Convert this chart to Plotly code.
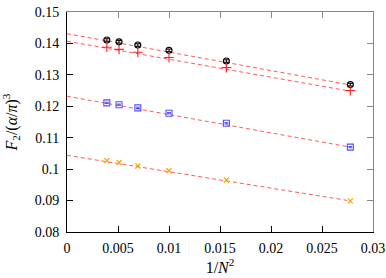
import plotly.graph_objects as go

# Data: x = 1/N^2
x_vals = [1/256, 1/196, 1/144, 1/100, 1/64, 1/36]
y_black = [0.1411, 0.1405, 0.1395, 0.1378, 0.1344, 0.1269]
err_black = [0.0004, 0.0004, 0.0004, 0.0004, 0.0004, 0.0004]
y_red = [0.1388, 0.1381, 0.1372, 0.1355, 0.1323, 0.1250]
y_blue = [0.1211, 0.1205, 0.1195, 0.1178, 0.1146, 0.1070]
err_blue = [0.0002, 0.0002, 0.0002, 0.0002, 0.0002, 0.0002]
y_orange = [0.1027, 0.1021, 0.1010, 0.0995, 0.0965, 0.0899]

# Linear fit lines (start/end values)
fit_x = [0.0, 1/36]
fit_black = [0.1431, 0.1268]
fit_red = [0.1407, 0.1248]
fit_blue = [0.1232, 0.1070]
fit_orange = [0.1044, 0.0899]

x_ticks = [0, 0.005, 0.01, 0.015, 0.02, 0.025, 0.03]
x_ticklabels = ["0", "0.005", "0.01", "0.015", "0.02", "0.025", "0.03"]
y_ticks = [0.08, 0.09, 0.10, 0.11, 0.12, 0.13, 0.14, 0.15]
y_ticklabels = ["0.08", "0.09", "0.1", "0.11", "0.12", "0.13", "0.14", "0.15"]

fig = go.Figure()

fit_color = "rgba(255,60,60,0.85)"
for fy in [fit_black, fit_red, fit_blue, fit_orange]:
    fig.add_trace(go.Scatter(x=fit_x, y=fy, mode="lines",
                             line=dict(color=fit_color, width=1, dash="4px,3px"),
                             showlegend=False, hoverinfo="skip"))

fig.add_trace(go.Scatter(x=x_vals, y=y_black, mode="markers",
                         marker=dict(symbol="circle-open", size=6, color="black",
                                     line=dict(width=1.1)),
                         error_y=dict(type="data", array=err_black, color="black",
                                      thickness=1, width=3),
                         showlegend=False))
fig.add_trace(go.Scatter(x=x_vals, y=y_red, mode="markers",
                         marker=dict(symbol="cross-thin-open", size=7, color="#ff2020",
                                     line=dict(width=1.1, color="#ff2020")),
                         showlegend=False))
fig.add_trace(go.Scatter(x=x_vals, y=y_blue, mode="markers",
                         marker=dict(symbol="square-open", size=6, color="#5050ff",
                                     line=dict(width=1.1, color="#5050ff")),
                         error_y=dict(type="data", array=err_blue, color="#5050ff",
                                      thickness=1, width=2),
                         showlegend=False))
fig.add_trace(go.Scatter(x=x_vals, y=y_orange, mode="markers",
                         marker=dict(symbol="x-thin-open", size=5, color="#ffa000",
                                     line=dict(width=1.2, color="#ffa000")),
                         showlegend=False))

font = dict(family="Liberation Serif, DejaVu Serif, serif", size=14, color="black")
title_font = dict(family="Liberation Serif, DejaVu Serif, serif", size=16, color="black")

fig.update_layout(
    width=386, height=278,
    margin=dict(l=67, r=13, t=12, b=46),
    paper_bgcolor="white", plot_bgcolor="white",
    font=font,
    xaxis=dict(range=[0, 0.03], tickvals=x_ticks, ticktext=x_ticklabels,
               ticks="inside", ticklen=6, tickcolor="black", showline=True,
               linecolor="black", linewidth=1, showgrid=False, zeroline=False,
               automargin=False, ticklabelstandoff=3, ticklabeloverflow="allow",
               title=dict(text="1/<i>N</i><sup>2</sup>", font=title_font, standoff=4)),
    yaxis=dict(range=[0.08, 0.15], tickvals=y_ticks, ticktext=y_ticklabels,
               ticks="inside", ticklen=6, tickcolor="black", showline=True,
               linecolor="black", linewidth=1, showgrid=False, zeroline=False,
               automargin=False, ticklabelstandoff=4, ticklabeloverflow="allow",
               title=dict(text="<i>F</i><sub>2</sub>/(<i>α</i>/<i>π</i>)<sup>3</sup>",
                          font=title_font)),
    xaxis2=dict(range=[0, 0.03], tickvals=x_ticks, overlaying="x", side="top",
                ticks="inside", ticklen=6, tickcolor="#888888", showline=True,
                linecolor="#888888", linewidth=1, showticklabels=False,
                showgrid=False, zeroline=False, automargin=False),
    yaxis2=dict(range=[0.08, 0.15], tickvals=y_ticks, overlaying="y", side="right",
                ticks="inside", ticklen=6, tickcolor="#888888", showline=True,
                linecolor="#888888", linewidth=1, showticklabels=False,
                showgrid=False, zeroline=False, automargin=False),
)
# dummy trace to activate the mirror axes
fig.add_trace(go.Scatter(x=[None], y=[None], xaxis="x2", yaxis="y2",
                         showlegend=False, hoverinfo="skip"))

# remove the default 8px page margin so the figure sits at the window origin
fig.write_html("out.html", config={"displayModeBar": False},
               post_script="document.body.style.margin='0';document.body.style.overflow='hidden';")
